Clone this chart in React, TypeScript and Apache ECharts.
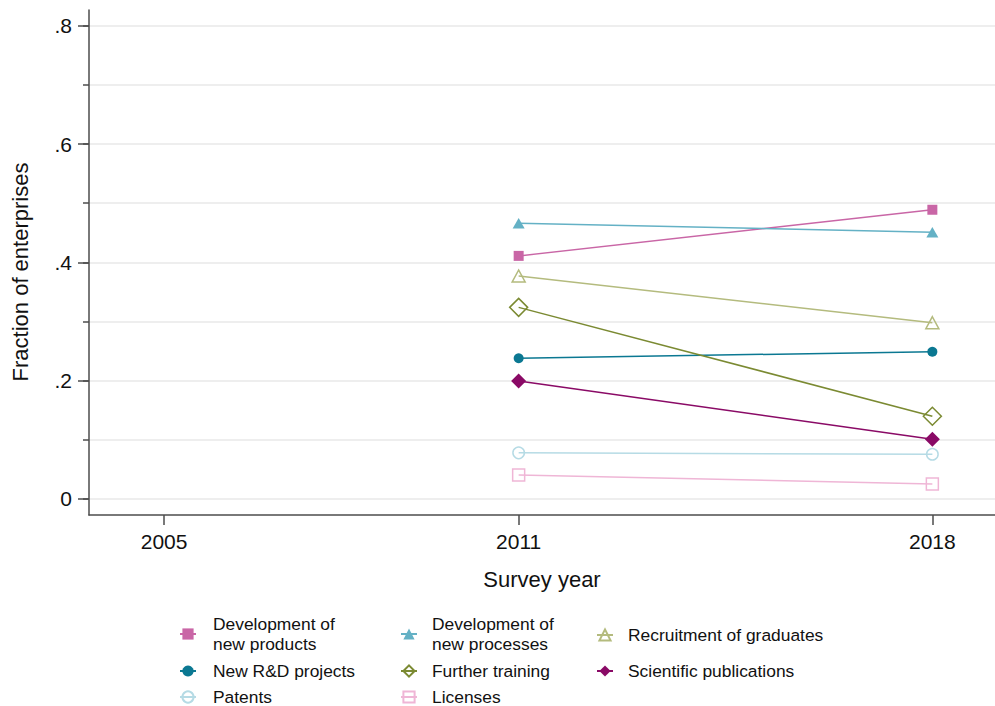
import React, { useEffect, useRef } from "react";
import * as echarts from "echarts";

const FONT = "'Liberation Sans', Arial, Helvetica, sans-serif";

// ---- data ----
const surveyYears = [2011, 2018];
const xTickValues = [2005, 2011, 2018];
const yMajorTicks = [0, 0.2, 0.4, 0.6, 0.8];
const yMinorTicks = [0, 0.1, 0.2, 0.3, 0.4, 0.5, 0.6, 0.7, 0.8];
const yTickLabels = ["0", ".2", ".4", ".6", ".8"];

const seriesNames = [
  "Development of new products",
  "Development of new processes",
  "Recruitment of graduates",
  "New R&D projects",
  "Further training",
  "Scientific publications",
  "Patents",
  "Licenses",
];
const legendLabels = [
  "Development of\nnew products",
  "Development of\nnew processes",
  "Recruitment of graduates",
  "New R&D projects",
  "Further training",
  "Scientific publications",
  "Patents",
  "Licenses",
];

const devNewProducts = [0.411, 0.489];
const devNewProcesses = [0.466, 0.451];
const recruitmentGraduates = [0.377, 0.298];
const newRDProjects = [0.238, 0.249];
const furtherTraining = [0.324, 0.14];
const scientificPublications = [0.1995, 0.101];
const patents = [0.078, 0.0756];
const licenses = [0.0406, 0.0254];

const seriesValues = [
  devNewProducts,
  devNewProcesses,
  recruitmentGraduates,
  newRDProjects,
  furtherTraining,
  scientificPublications,
  patents,
  licenses,
];

// ---- styles ----
const seriesStyles = [
  { color: "#c966a6", symbol: "rect", size: 10, hollow: false },
  { color: "#64b1c5", symbol: "triangle", size: [12, 10.5], hollow: false },
  { color: "#b4bb7e", symbol: "triangle", size: [13, 12], hollow: true },
  { color: "#0b7892", symbol: "circle", size: 10, hollow: false },
  { color: "#7b8a32", symbol: "diamond", size: 18, hollow: true },
  { color: "#8a0a66", symbol: "diamond", size: 15, hollow: false },
  { color: "#b6dbe5", symbol: "circle", size: 11.5, hollow: true },
  { color: "#efb6d6", symbol: "rect", size: 12, hollow: true },
];

// legend layout: [iconLeft, top, textPadLeft, lineHeight]
const legendPos = [
  [179, 614.5, 12, 19.5],
  [400, 614.5, 10, 19.5],
  [596, 626.5, 10, 15],
  [179, 662.5, 12, 15],
  [400, 662.5, 10, 15],
  [596, 662.5, 10, 15],
  [179, 688.5, 12, 15],
  [400, 688.5, 10, 15],
];

const X_MIN = 2003.73;
const X_MAX = 2019.06;
const Y_MIN = -0.02705;
const Y_MAX = 0.8267;

export default function App() {
  const ref = useRef<HTMLDivElement>(null);

  useEffect(() => {
    if (!ref.current) return;
    const chart = echarts.init(ref.current, null, { renderer: "svg" });
    const axisColor = "#4d4d4d";
    const textColor = "#111111";

    const series = seriesNames.map((name, i) => {
      const st = seriesStyles[i];
      return {
        type: "line",
        name,
        yAxisIndex: 0,
        data: surveyYears.map((yr, j) => [yr, seriesValues[i][j]]),
        symbol: st.symbol,
        symbolSize: st.size,
        showSymbol: true,
        lineStyle: { color: st.color, width: 1.5 },
        itemStyle: st.hollow
          ? { color: "rgba(255,255,255,0)", borderColor: st.color, borderWidth: 1.5 }
          : { color: st.color, borderWidth: 0 },
        emphasis: { disabled: true },
        z: 3,
      };
    });

    const legends = seriesNames.map((name, i) => ({
      data: [name],
      left: legendPos[i][0],
      top: legendPos[i][1],
      orient: "horizontal",
      padding: 0,
      itemGap: 0,
      itemWidth: 16,
      itemHeight: 14,
      selectedMode: false,
      formatter: (n: string) => legendLabels[seriesNames.indexOf(n)],
      textStyle: {
        fontFamily: FONT,
        fontSize: 17.4,
        lineHeight: legendPos[i][3],
        color: textColor,
        padding: [0, 0, 0, legendPos[i][2]],
      },
    }));

    chart.setOption({
      animation: false,
      backgroundColor: "#ffffff",
      textStyle: { fontFamily: FONT },
      grid: { left: 89, right: 0, top: 10, bottom: 191, containLabel: false },
      xAxis: {
        type: "value",
        min: X_MIN,
        max: X_MAX,
        name: "Survey year",
        nameLocation: "middle",
        nameGap: 53,
        nameTextStyle: { fontFamily: FONT, fontSize: 22, color: textColor },
        axisLine: { show: true, onZero: false, lineStyle: { color: axisColor, width: 1.5 } },
        axisTick: {
          show: true,
          customValues: xTickValues,
          length: 10,
          lineStyle: { color: axisColor, width: 1.5 },
        },
        axisLabel: {
          customValues: xTickValues,
          margin: 16,
          fontFamily: FONT,
          fontSize: 21,
          color: textColor,
          formatter: (v: number) => String(v),
        },
        splitLine: { show: false },
      },
      yAxis: [
        {
          type: "value",
          position: "left",
          min: Y_MIN,
          max: Y_MAX,
          axisLine: { show: true, onZero: false, lineStyle: { color: axisColor, width: 1.5 } },
          axisTick: {
            show: true,
            customValues: yMinorTicks,
            length: 6,
            lineStyle: { color: axisColor, width: 1.5 },
          },
          axisLabel: { show: false },
          splitLine: { show: true, lineStyle: { color: "#e8e8e8", width: 1.5 } },
        },
        {
          type: "value",
          position: "left",
          min: Y_MIN,
          max: Y_MAX,
          axisLine: { show: false },
          axisTick: {
            show: true,
            customValues: yMajorTicks,
            length: 11,
            lineStyle: { color: axisColor, width: 1.5 },
          },
          axisLabel: {
            customValues: yMajorTicks,
            margin: 17,
            fontFamily: FONT,
            fontSize: 21,
            color: textColor,
            formatter: (v: number) => {
              const idx = yMajorTicks.findIndex((t) => Math.abs(t - v) < 1e-6);
              return idx >= 0 ? yTickLabels[idx] : "";
            },
          },
          splitLine: { show: false },
        },
      ],
      legend: legends,
      graphic: [
        {
          type: "text",
          x: 20,
          y: 272,
          rotation: Math.PI / 2,
          style: {
            text: "Fraction of enterprises",
            fontFamily: FONT,
            fontSize: 22,
            fill: textColor,
            align: "center",
            verticalAlign: "middle",
          },
        },
      ],
      series,
    });

    return () => chart.dispose();
  }, []);

  return (
    <div
      ref={ref}
      style={{ position: "absolute", left: 0, top: 0, width: 995, height: 706 }}
    />
  );
}
